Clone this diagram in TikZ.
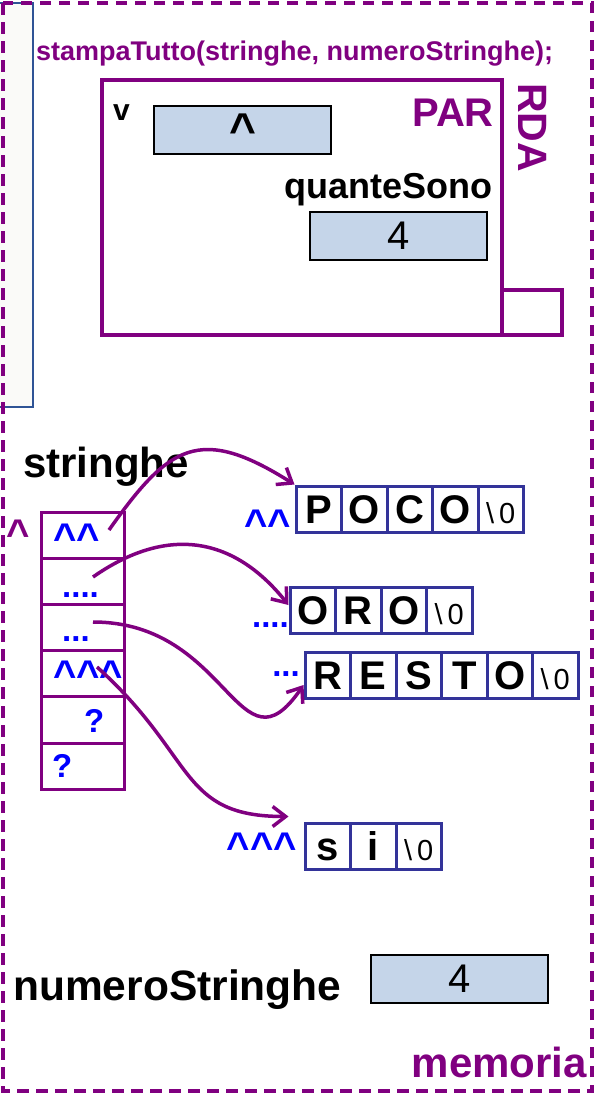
\documentclass[tikz,border=0pt]{standalone}
\usepackage{fontspec}
\setmainfont{Liberation Sans}
\usetikzlibrary{arrows.meta}
\definecolor{viola}{RGB}{128,0,128}
\definecolor{blu}{RGB}{0,0,255}
\definecolor{celeste}{RGB}{197,213,233}
\definecolor{bordo}{RGB}{51,51,153}
\definecolor{bluscuro}{RGB}{47,84,150}
\definecolor{carta}{RGB}{250,250,248}

\begin{document}
\begin{tikzpicture}[x=1pt,y=-1pt,
  freccia/.style={viola,line width=3.5pt,-{Straight Barb[length=13pt,width=20pt]}},
  valore/.style={draw=black,line width=2pt,fill=celeste,minimum width=177pt,minimum height=48pt,inner sep=0pt,font=\fontsize{40}{40}\selectfont},
  lettera/.style={draw=bordo,line width=3pt,fill=white,minimum width=45.5pt,minimum height=46pt,inner sep=0pt,text height=29pt,text depth=0pt,font=\bfseries\fontsize{40}{40}\selectfont},
  fine/.style={lettera,font=\fontsize{29}{29}\selectfont},
  casella/.style={draw=viola,line width=3pt,minimum width=83pt,minimum height=46.2pt,inner sep=0pt},
  indir/.style={blu,inner sep=0pt,font=\bfseries\fontsize{33}{33}\selectfont},
  punta/.style={indir,font=\bfseries\fontsize{40}{40}\selectfont},
  nome/.style={inner sep=0pt,font=\bfseries\fontsize{#1}{#1}\selectfont}]
\useasboundingbox (0,0) rectangle (597,1096);
% pila a sinistra e cornice della memoria
\draw[bluscuro,line width=2pt,fill=carta] (-5,3) rectangle (33,407);
\draw[viola,line width=3.5pt,dash pattern=on 11.5pt off 7.5pt] (3,3) rectangle (592,1091);
\node[nome=27,viola,anchor=base west] (chiamata) at (36,60) {stampaTutto(stringhe, numeroStringhe);};
% record di attivazione
\draw[viola,line width=4pt] (102,80) rectangle (502,335);
\draw[viola,line width=3.5pt] (502,290) rectangle (562,335);
\node[nome=40,viola,anchor=base east] (par) at (494,126) {PAR};
\node[nome=41,viola,anchor=base west,rotate=-90] (rda) at (518,83) {RDA};
\node[nome=30,anchor=base west] (v) at (113,120) {v};
\node[valore,font=\bfseries\fontsize{46}{46}\selectfont] (vval) at (242.5,130) {\textasciicircum};
\node[nome=36,anchor=base east] (quante) at (493,198) {quanteSono};
\node[valore] (qval) at (398.5,236) {4};
% array stringhe
\node[nome=42,anchor=base west] (stringhe) at (23,477) {stringhe};
\node[punta,viola,anchor=base west] (ind) at (6,547) {\textasciicircum};
\foreach \i in {1,...,6} {
  \node[casella] (cas\i) at (82.5,{512+46.2*(\i-0.5)}) {};
}
\node[punta,anchor=base west] (l1) at (53,551) {\textasciicircum\textasciicircum};
\node[indir,anchor=base west] (l2) at (62,597) {....};
\node[indir,anchor=base west] (l3) at (62,641) {...};
\node[punta,anchor=base west] (l4) at (53,688) {\textasciicircum\textasciicircum\textasciicircum};
\node[indir,anchor=base west] (l5) at (84,732) {?};
\node[indir,anchor=base west] (l6) at (52,777) {?};
% le stringhe
\foreach \c [count=\i] in {P,O,C,O} {
  \node[lettera] (poco\i) at ({296+45.5*(\i-0.5)},509) {\c};
}
\node[fine] (poco5) at ({296+45.5*4.5},509) {\textbackslash\,0};
\foreach \c [count=\i] in {O,R,O} {
  \node[lettera] (oro\i) at ({290+45.5*(\i-0.5)},610) {\c};
}
\node[fine] (oro4) at ({290+45.5*3.5},610) {\textbackslash\,0};
\foreach \c [count=\i] in {R,E,S,T,O} {
  \node[lettera] (resto\i) at ({305+45.5*(\i-0.5)},675) {\c};
}
\node[fine] (resto6) at ({305+45.5*5.5},675) {\textbackslash\,0};
\foreach \c [count=\i] in {s,i} {
  \node[lettera] (si\i) at ({305+45.5*(\i-0.5)},846) {\c};
}
\node[fine] (si3) at ({305+45.5*2.5},846) {\textbackslash\,0};
\node[punta,anchor=base east] (a1) at (291,537) {\textasciicircum\textasciicircum};
\node[indir,anchor=base east] (a2) at (289,627) {....};
\node[indir,anchor=base east] (a3) at (300,676) {...};
\node[punta,anchor=base east] (a4) at (297,860) {\textasciicircum\textasciicircum\textasciicircum};
% puntatori
\coordinate (p1) at (109,530);
\coordinate (p2) at (93,577);
\coordinate (p3) at (93,622);
\coordinate (p4) at (97,667);
\draw[freccia] (p1) .. controls +(60,-85) and +(-95,-60) .. (poco1.north west);
\draw[freccia] (p2) .. controls +(67,-47) and +(-60,-75) .. ([yshift=5pt]oro1.west);
\draw[freccia] (p3) .. controls +(137,0) and +(-65,95) .. ([yshift=-10pt]resto1.west);
\draw[freccia] (p4) .. controls +(100,90) and +(-110,0) .. ([xshift=-15pt,yshift=5pt]si1.north west);
% numeroStringhe
\node[nome=42.5,anchor=base west] (numero) at (13,1000) {numeroStringhe};
\node[valore] (nval) at (459.5,979) {4};
\node[nome=42,viola,anchor=base east] (memoria) at (587,1077) {memoria};
\end{tikzpicture}
\end{document}
